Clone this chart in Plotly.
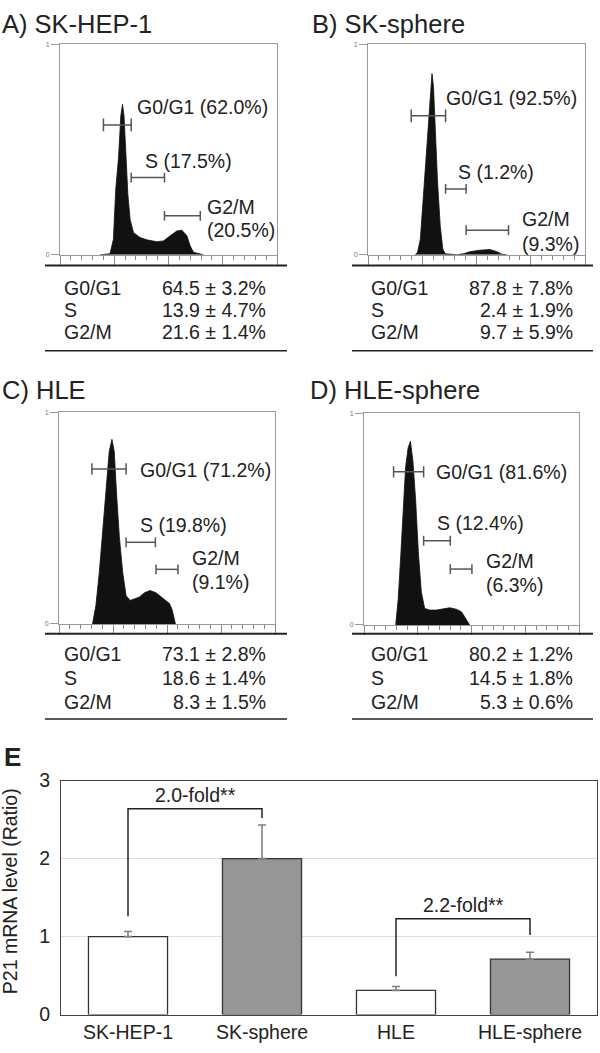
import plotly.graph_objects as go

W, H = 600, 1053
FONT = "Liberation Sans, Arial, sans-serif"
TXT = "#222222"
FS = 19.5
FSE = 19.5

def X(px):
    return px / W

def Y(py):
    return 1 - py / H

# ---------------- Data ----------------
# Histogram outlines (DNA content channel, relative cell count)
a_ch = [189, 236, 252, 263, 276, 287, 295, 302, 312, 320, 331, 347, 378, 410, 457, 488, 520, 551, 575, 599, 614, 630, 677]
a_ct = [0, 0.005, 0.074, 0.31, 0.46, 0.66, 0.715, 0.66, 0.46, 0.29, 0.167, 0.105, 0.082, 0.071, 0.062, 0.066, 0.09, 0.113, 0.117, 0.09, 0.043, 0.012, 0]

b_ch = [223, 234, 247, 262, 278, 291, 302, 309, 317, 328, 341, 353, 364, 419, 451, 482, 529, 576, 608, 631, 655]
b_ct = [0, 0.012, 0.074, 0.29, 0.506, 0.707, 0.861, 0.80, 0.60, 0.35, 0.136, 0.028, 0.005, 0, 0.005, 0.015, 0.022, 0.025, 0.015, 0.003, 0]

c_ch = [159, 175, 191, 206, 222, 238, 251, 262, 273, 286, 302, 318, 337, 357, 381, 405, 432, 460, 492, 524, 537, 552]
c_ct = [0, 0.088, 0.243, 0.428, 0.629, 0.815, 0.873, 0.815, 0.614, 0.413, 0.243, 0.134, 0.111, 0.119, 0.127, 0.147, 0.158, 0.147, 0.122, 0.096, 0.065, 0]

d_ch = [151, 163, 175, 186, 198, 210, 221, 233, 246, 259, 273, 289, 313, 345, 376, 408, 440, 464, 479, 495, 503]
d_ct = [0, 0.124, 0.326, 0.527, 0.744, 0.837, 0.868, 0.775, 0.589, 0.341, 0.155, 0.078, 0.070, 0.070, 0.074, 0.081, 0.074, 0.062, 0.039, 0.012, 0]

# Gates: channel ranges and marker levels, with gate percentages
phases = ["G0/G1", "S", "G2/M"]
gates_a = [(205, 336), (336, 493), (493, 662)]
gate_y_a = [0.617, 0.367, 0.185]
pct_a = [62.0, 17.5, 20.5]

gates_b = [(204, 366), (366, 463), (463, 663)]
gate_y_b = [0.66, 0.313, 0.117]
pct_b = [92.5, 1.2, 9.3]

gates_c = [(156, 318), (318, 457), (460, 564)]
gate_y_c = [0.733, 0.386, 0.258]
pct_c = [71.2, 19.8, 9.1]

gates_d = [(141, 284), (284, 411), (411, 514)]
gate_y_d = [0.724, 0.398, 0.264]
pct_d = [81.6, 12.4, 6.3]

# Mean ± SD tables
tbl_a = ["64.5 ± 3.2%", "13.9 ± 4.7%", "21.6 ± 1.4%"]
tbl_b = ["87.8 ± 7.8%", "2.4 ± 1.9%", "9.7 ± 5.9%"]
tbl_c = ["73.1 ± 2.8%", "18.6 ± 1.4%", "8.3 ± 1.5%"]
tbl_d = ["80.2 ± 1.2%", "14.5 ± 1.8%", "5.3 ± 0.6%"]

titles = ["A) SK-HEP-1", "B) SK-sphere", "C) HLE", "D) HLE-sphere"]

# Panel E: P21 mRNA
cells = ["SK-HEP-1", "SK-sphere", "HLE", "HLE-sphere"]
p21 = [1.0, 2.0, 0.31, 0.71]
p21_err = [0.065, 0.43, 0.05, 0.09]
bar_colors = ["#ffffff", "#969696", "#ffffff", "#969696"]
fold_labels = ["2.0-fold**", "2.2-fold**"]
fold_pairs = [(0, 1), (2, 3)]
fold_levels = [(1.26, 2.64, 2.52), (0.49, 1.23, 1.02)]
fold_text_y = [2.82, 1.41]

# ---------------- Figure ----------------
fig = go.Figure()

panels = [
    dict(ch=a_ch, ct=a_ct, gates=gates_a, gy=gate_y_a, pct=pct_a, tbl=tbl_a,
         box=(60, 277, 34, 249), title_xy=(0, 13),
         lab=[(352, 0.70), (392, 0.444), (683, 0.228, 0.12)],
         line_y=260, line_x=(45, 287), rows=(283, 305, 328), col=(62, 268), tline=347, capsz=[9, 7, 7]),
    dict(ch=b_ch, ct=b_ct, gates=gates_b, gy=gate_y_b, pct=pct_b, tbl=tbl_b,
         box=(368, 585, 34, 249), title_xy=(310, 13),
         lab=[(358, 0.745), (414, 0.394), (716, 0.171, 0.051)],
         line_y=260, line_x=(352, 593), rows=(283, 305, 328), col=(369, 575), tline=347, capsz=[9, 7, 7]),
    dict(ch=c_ch, ct=c_ct, gates=gates_c, gy=gate_y_c, pct=pct_c, tbl=tbl_c,
         box=(59, 275, 410, 626), title_xy=(0, 387),
         lab=[(376, 0.73), (376, 0.47), (622, 0.312, 0.20)],
         line_y=636, line_x=(45, 287), rows=(657, 681, 706), col=(62, 268), tline=723, capsz=[8, 7, 7]),
    dict(ch=d_ch, ct=d_ct, gates=gates_d, gy=gate_y_d, pct=pct_d, tbl=tbl_d,
         box=(364, 579, 411, 627), title_xy=(308, 387),
         lab=[(335, 0.721), (339, 0.484), (570, 0.302, 0.191)],
         line_y=636, line_x=(352, 593), rows=(657, 681, 706), col=(369, 575), tline=723, capsz=[8, 7, 7]),
]

annotations = []
shapes = []
layout_axes = {}

for i, p in enumerate(panels):
    n = i + 1
    xa = "x" if n == 1 else f"x{n}"
    ya = "y" if n == 1 else f"y{n}"
    fig.add_trace(go.Scatter(x=p["ch"], y=p["ct"], xaxis=xa, yaxis=ya, mode="lines",
                             fill="tozeroy", fillcolor="#111111",
                             line=dict(color="#111111", width=0.8), hoverinfo="skip"))
    for (g0, g1), gy, cs in zip(p["gates"], p["gy"], p["capsz"]):
        fig.add_trace(go.Scatter(x=[g0, g1], y=[gy, gy], xaxis=xa, yaxis=ya,
                                 mode="lines+markers",
                                 line=dict(color="#555555", width=1.5),
                                 marker=dict(symbol="line-ns", size=cs,
                                             line=dict(color="#555555", width=1.5)),
                                 hoverinfo="skip"))
    lab = p["lab"]
    f = dict(size=FS, color=TXT, family=FONT)
    annotations.append(dict(x=lab[0][0], y=lab[0][1], xref=xa, yref=ya, xanchor="left", yanchor="middle",
                            text=f"{phases[0]} ({p['pct'][0]:.1f}%)", showarrow=False, font=f))
    annotations.append(dict(x=lab[1][0], y=lab[1][1], xref=xa, yref=ya, xanchor="left", yanchor="middle",
                            text=f"{phases[1]} ({p['pct'][1]:.1f}%)", showarrow=False, font=f))
    annotations.append(dict(x=lab[2][0], y=lab[2][1], xref=xa, yref=ya, xanchor="left", yanchor="middle",
                            text=f"{phases[2]}", showarrow=False, font=f))
    annotations.append(dict(x=lab[2][0], y=lab[2][2], xref=xa, yref=ya, xanchor="left", yanchor="middle",
                            text=f"({p['pct'][2]:.1f}%)", showarrow=False, font=f))
    annotations.append(dict(x=X(p["title_xy"][0]), y=Y(p["title_xy"][1]), xref="paper", yref="paper",
                            xanchor="left", yanchor="middle", text=titles[i], showarrow=False,
                            font=dict(size=25.5, color=TXT, family=FONT)))
    for ph, val, ry in zip(phases, p["tbl"], p["rows"]):
        annotations.append(dict(x=X(p["col"][0]), y=Y(ry), xref="paper", yref="paper",
                                xanchor="left", yanchor="middle", text=ph, showarrow=False, font=f))
        annotations.append(dict(x=X(p["col"][1]), y=Y(ry), xref="paper", yref="paper",
                                xanchor="right", yanchor="middle", text=val, showarrow=False, font=f))
    shapes.append(dict(type="line", xref="paper", yref="paper",
                       x0=X(p["line_x"][0]), x1=X(p["line_x"][1]), y0=Y(p["line_y"]), y1=Y(p["line_y"]),
                       line=dict(color="#222222", width=2)))
    shapes.append(dict(type="line", xref="paper", yref="paper",
                       x0=X(p["line_x"][0]), x1=X(p["line_x"][1]), y0=Y(p["tline"]), y1=Y(p["tline"]),
                       line=dict(color="#222222", width=1.5)))
    l, r, t, b = p["box"]
    xkey = "xaxis" if n == 1 else f"xaxis{n}"
    ykey = "yaxis" if n == 1 else f"yaxis{n}"
    layout_axes[xkey] = dict(domain=[X(l), X(r)], range=[0, 1024], anchor=ya,
                             showgrid=False, zeroline=False, showline=True, mirror=True,
                             linecolor="#999999", linewidth=1,
                             ticks="outside", ticklen=9, tickcolor="#888888", tick0=0, dtick=256,
                             minor=dict(dtick=51.2, ticklen=4, ticks="outside", tickcolor="#888888"),
                             showticklabels=False, fixedrange=True)
    layout_axes[ykey] = dict(domain=[Y(b), Y(t)], range=[0, 1], anchor=xa,
                             showgrid=False, zeroline=False, showline=True, mirror=True,
                             linecolor="#999999", linewidth=1,
                             ticks="outside", ticklen=8, tickcolor="#999999",
                             tickvals=[0, 1], ticktext=["0", "1"],
                             tickfont=dict(size=7, color="#777777", family=FONT), fixedrange=True)

# ---------------- Panel E ----------------
fig.add_trace(go.Bar(x=cells, y=p21, xaxis="x5", yaxis="y5",
                     marker=dict(color=bar_colors, line=dict(color="#333333", width=1.3)),
                     error_y=dict(type="data", array=p21_err, arrayminus=[0] * len(p21), symmetric=False,
                                  color="#808080", thickness=1.6, width=4),
                     hoverinfo="skip"))

for (i0, i1), (ya0, ytop, ya1), lab, ty in zip(fold_pairs, fold_levels, fold_labels, fold_text_y):
    fig.add_trace(go.Scatter(x=[cells[i0], cells[i0], cells[i1], cells[i1]], y=[ya0, ytop, ytop, ya1],
                             xaxis="x5", yaxis="y5", mode="lines",
                             line=dict(color="#222222", width=1.5), hoverinfo="skip"))
    annotations.append(dict(x=(i0 + i1) / 2, y=ty, xref="x5", yref="y5", xanchor="center", yanchor="middle",
                            text=lab, showarrow=False, font=dict(size=FSE, color=TXT, family=FONT)))

layout_axes["xaxis5"] = dict(domain=[X(61), X(597)], anchor="y5", type="category",
                             showgrid=False, zeroline=False, showline=True, mirror=True,
                             linecolor="#444444", linewidth=1, ticks="",
                             tickfont=dict(size=FSE, color=TXT, family=FONT), fixedrange=True)
layout_axes["yaxis5"] = dict(domain=[Y(1025), Y(786)], anchor="x5", range=[0, 3], dtick=1,
                             showgrid=True, gridcolor="#dddddd", gridwidth=1, zeroline=False,
                             showline=True, mirror=True, linecolor="#444444", linewidth=1, ticks="",
                             ticklabelstandoff=6,
                             tickfont=dict(size=FSE, color=TXT, family=FONT), fixedrange=True)

annotations.append(dict(x=X(2), y=Y(762), xref="paper", yref="paper", xanchor="left", yanchor="middle",
                        text="<b>E</b>", showarrow=False, font=dict(size=26, color=TXT, family=FONT)))
annotations.append(dict(x=X(10), y=Y(899), xref="paper", yref="paper", xanchor="center", yanchor="middle",
                        text="P21 mRNA level (Ratio)", textangle=-90, showarrow=False,
                        font=dict(size=FSE, color=TXT, family=FONT)))

fig.update_layout(width=W, height=H, margin=dict(l=0, r=0, t=0, b=0),
                  paper_bgcolor="white", plot_bgcolor="white", showlegend=False,
                  bargap=0.41, annotations=annotations, shapes=shapes,
                  font=dict(family=FONT, color=TXT), **layout_axes)

fig.write_html("out.html", config={"displayModeBar": False},
               post_script="document.body.style.margin='0';document.body.style.overflow='hidden';")
